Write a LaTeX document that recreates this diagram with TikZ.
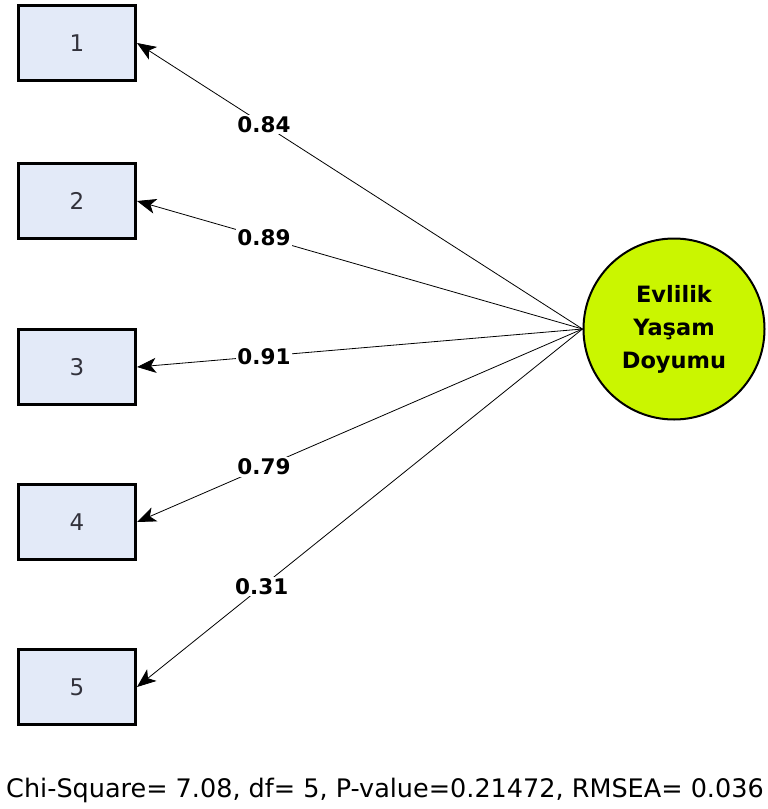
\documentclass[tikz,border=0pt]{standalone}
\usepackage{fontspec}
\setmainfont{DejaVu Sans}
\usetikzlibrary{arrows.meta}
\definecolor{boxfill}{RGB}{227,234,248}
\definecolor{lime}{RGB}{202,246,0}
\definecolor{digit}{RGB}{50,50,60}
\begin{document}
\begin{tikzpicture}[x=1pt,y=-1pt,
  obs/.style={draw=black,line width=3pt,fill=boxfill,minimum width=117pt,minimum height=75pt,inner sep=0pt,font=\fontsize{23}{26}\selectfont,text=digit},
  lat/.style={draw=black,line width=2pt,fill=lime,circle,minimum size=181pt,inner sep=0pt,font=\fontsize{22.5}{33}\selectfont\bfseries,align=center},
  conn/.style={line width=0.8pt,-{Stealth[length=19pt,width=15pt,inset=5pt]}},
  lab/.style={fill=white,inner sep=1.5pt,font=\fontsize{21.5}{24}\selectfont\bfseries,pos=0.715}]
\useasboundingbox (0,0) rectangle (768,809);
\node[obs] (b1) at (77,43) {1};
\node[obs] (b2) at (77,201) {2};
\node[obs] (b3) at (77,367) {3};
\node[obs] (b4) at (77,522) {4};
\node[obs] (b5) at (77,687) {5};
\node[lat] (c) at (674,329) {Evlilik\\Yaşam\\Doyumu};
\draw[conn] (c.west) -- node[lab]{0.84} (b1.east);
\draw[conn] (c.west) -- node[lab]{0.89} (b2.east);
\draw[conn] (c.west) -- node[lab]{0.91} (b3.east);
\draw[conn] (c.west) -- node[lab]{0.79} (b4.east);
\draw[conn] (c.west) -- node[lab,pos=0.72]{0.31} (b5.east);
\node[anchor=base,inner sep=0pt,font=\fontsize{25.5}{28}\selectfont] (fit) at (385,797) {Chi-Square= 7.08, df= 5, P-value=0.21472, RMSEA= 0.036};
\end{tikzpicture}
\end{document}
